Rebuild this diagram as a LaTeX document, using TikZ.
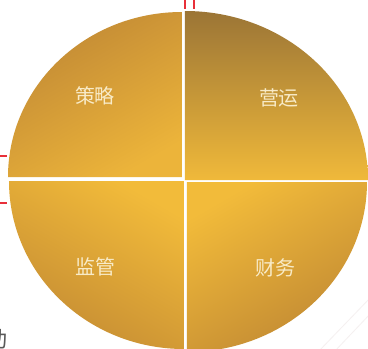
\documentclass[tikz,border=0pt]{standalone}
\usepackage{fontspec}
\newfontfamily\cjk{Noto Sans CJK SC}
\definecolor{tldark}{HTML}{C08835}
\definecolor{tllight}{HTML}{ECB43A}
\definecolor{trdark}{HTML}{9B7536}
\definecolor{trlight}{HTML}{F0B93A}
\definecolor{bllight}{HTML}{F2BB3A}
\definecolor{bldark}{HTML}{C48B33}
\definecolor{brlight}{HTML}{F2BB3A}
\definecolor{brdark}{HTML}{C08833}
\definecolor{labelcol}{HTML}{F8EBC8}
\definecolor{markred}{HTML}{E8303A}
\definecolor{faint}{HTML}{F5F0F0}
\tikzset{
  lbl/.style={font=\cjk\fontsize{20}{20}\selectfont, text=labelcol, inner sep=0pt},
  redmark/.style={draw=markred, line width=1.6pt},
}
\begin{document}
\begin{tikzpicture}[x=1pt,y=-1pt]
\useasboundingbox[fill=white] (0,0) rectangle (368,349);
% faint background lines
\draw[faint, line width=0.8pt] (372,296) -- (318,352);
\draw[faint, line width=0.8pt] (372,312) -- (334,352);
% quadrants
\shade[left color=tldark, right color=tllight, shading angle=30]
  (182,177) -- (8,177) arc[start angle=180, end angle=270, x radius=174, y radius=165] -- cycle;
\shade[top color=trdark, bottom color=trlight]
  (185,180) -- (185,11) arc[start angle=270, end angle=360, x radius=183, y radius=169] -- cycle;
\shade[left color=bllight, right color=bldark, shading angle=-30]
  (184,181) -- (184,349) arc[start angle=90, end angle=180, x radius=175, y radius=168] -- cycle;
\shade[left color=brlight, right color=brdark, shading angle=30]
  (187,182) -- (367,182) arc[start angle=0, end angle=90, x radius=180, y radius=170] -- cycle;
% labels
\node[lbl] (celue) at (95,96) {策略};
\node[lbl] (yingyun) at (279,98) {营运};
\node[lbl] (jianguan) at (96,267) {监管};
\node[lbl] (caiwu) at (275,268) {财务};
% red marks
\draw[redmark] (185,0) -- (185,9);
\draw[redmark] (194,0) -- (194,9);
\draw[redmark] (0,156) -- (7,156);
\draw[redmark] (0,203) -- (7,203);
% partial text at bottom-left
\node[font=\cjk\fontsize{22}{22}\selectfont, text=black!65, inner sep=0pt] (dong) at (-4,339) {动};
\end{tikzpicture}
\end{document}
